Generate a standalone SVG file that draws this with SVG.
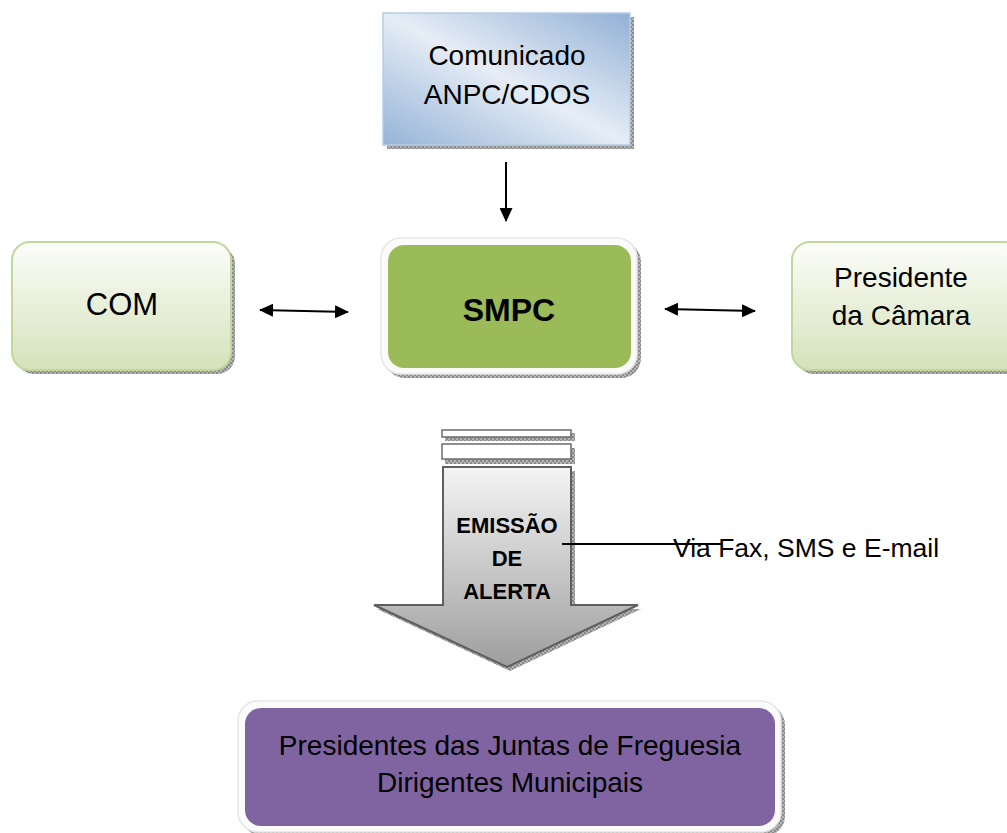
<svg xmlns="http://www.w3.org/2000/svg" width="1007" height="833" viewBox="0 0 1007 833">
<style>
.t{font-family:"Liberation Sans",Arial,sans-serif;fill:#000;text-anchor:middle}
.conn{stroke:#000;stroke-width:2;fill:none}
.shadow{fill:url(#hatch)}
.green{fill:url(#gGreen);stroke:#c3d69b;stroke-width:2}
.frame{fill:#fbfbfb;stroke:#e6e6e6;stroke-width:1.5}
</style>
<defs>
<pattern id="hatch" width="4" height="4" patternUnits="userSpaceOnUse">
<rect width="4" height="4" fill="#b5b5b5"/>
<rect width="2" height="2" fill="#8a8a8a"/>
<rect x="2" y="2" width="2" height="2" fill="#8a8a8a"/>
</pattern>
<linearGradient id="gBlue" x1="0" y1="1" x2="1" y2="0">
<stop offset="0" stop-color="#95b3d7"/>
<stop offset="0.5" stop-color="#e6edf6"/>
<stop offset="1" stop-color="#92b0d5"/>
</linearGradient>
<linearGradient id="gGreen" x1="0" y1="0" x2="0" y2="1">
<stop offset="0" stop-color="#fcfdf9"/>
<stop offset="1" stop-color="#d5e2bb"/>
</linearGradient>
<linearGradient id="gGrey" x1="0" y1="0" x2="0" y2="1">
<stop offset="0" stop-color="#f4f4f4"/>
<stop offset="1" stop-color="#9e9e9e"/>
</linearGradient>
<marker id="ah" viewBox="0 0 14 13" refX="13" refY="6.5" markerWidth="14" markerHeight="13" orient="auto-start-reverse" markerUnits="userSpaceOnUse">
<path d="M0,0 L14,6.5 L0,13 Z" fill="#000"/>
</marker>
</defs>

<g id="comunicado">
<rect class="shadow" x="387" y="17" width="247" height="132"/>
<rect x="383" y="13" width="247" height="132" fill="url(#gBlue)" stroke="#b8cce4" stroke-width="1.5"/>
<text class="t" x="507" y="65" font-size="28">Comunicado</text>
<text class="t" x="507" y="104" font-size="28">ANPC/CDOS</text>
</g>

<g id="com">
<rect class="shadow" x="16" y="246" width="219" height="128" rx="18"/>
<rect class="green" x="12" y="242" width="219" height="128" rx="18"/>
<text class="t" x="122" y="315" font-size="31">COM</text>
</g>

<g id="smpc">
<rect class="shadow" x="385" y="242" width="256" height="136" rx="20"/>
<rect class="frame" x="381" y="238" width="256" height="136" rx="20"/>
<rect x="388" y="245" width="243" height="123" rx="16" fill="#9bbb59"/>
<text class="t" x="509" y="321" font-size="32" font-weight="bold">SMPC</text>
</g>

<g id="presidente">
<rect class="shadow" x="796" y="246" width="230" height="128" rx="18"/>
<rect class="green" x="792" y="242" width="230" height="128" rx="18"/>
<text class="t" x="901" y="287" font-size="28">Presidente</text>
<text class="t" x="901" y="325" font-size="28">da Câmara</text>
</g>

<g id="emissao">
<rect class="shadow" x="445" y="433" width="130" height="8"/>
<rect x="442" y="430" width="129" height="7" fill="#fff" stroke="#6b6b6b" stroke-width="1.5"/>
<rect class="shadow" x="445" y="448" width="130" height="16"/>
<rect x="442" y="444" width="129" height="15" fill="#fff" stroke="#6b6b6b" stroke-width="1.5"/>
<path class="shadow" d="M446,471 L575,471 L575,609 L641,609 L510,671 L377,609 L446,609 Z"/>
<path d="M443,467 L571,467 L571,605 L638,605 L507,667 L374,605 L443,605 Z" fill="url(#gGrey)" stroke="#5f5f5f" stroke-width="2"/>
<text class="t" x="507" y="533" font-size="22" font-weight="bold">EMISSÃO</text>
<text class="t" x="507" y="566" font-size="22" font-weight="bold">DE</text>
<text class="t" x="507" y="599" font-size="22" font-weight="bold">ALERTA</text>
</g>

<g id="via">
<line x1="562" y1="544" x2="722" y2="544" stroke="#000" stroke-width="2"/>
<text x="673" y="557" font-size="26.5" font-family="Liberation Sans, Arial, sans-serif" fill="#000">Via Fax, SMS e E-mail</text>
</g>

<g id="presidentes">
<rect class="shadow" x="242" y="705" width="543" height="131" rx="20"/>
<rect class="frame" x="238" y="701" width="543" height="131" rx="20"/>
<rect x="245" y="708" width="530" height="118" rx="16" fill="#8064a2"/>
<text class="t" x="510" y="755" font-size="28">Presidentes das Juntas de Freguesia</text>
<text class="t" x="510" y="792" font-size="28">Dirigentes Municipais</text>
</g>

<g id="connectors">
<line class="conn" x1="506" y1="162" x2="506" y2="221" marker-end="url(#ah)"/>
<line class="conn" x1="260" y1="310" x2="348" y2="312" marker-start="url(#ah)" marker-end="url(#ah)"/>
<line class="conn" x1="665" y1="309" x2="755" y2="311" marker-start="url(#ah)" marker-end="url(#ah)"/>
</g>
</svg>
